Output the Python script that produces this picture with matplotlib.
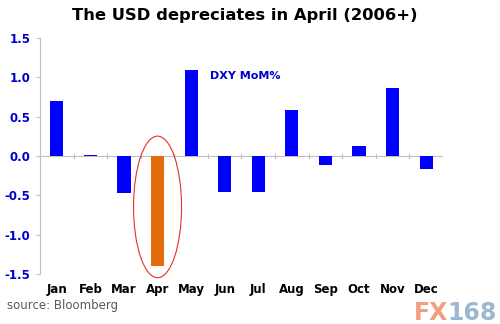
import matplotlib
matplotlib.use("Agg")
import matplotlib.pyplot as plt
from matplotlib.patches import Ellipse
import numpy as np

months = ["Jan", "Feb", "Mar", "Apr", "May", "Jun", "Jul", "Aug", "Sep", "Oct", "Nov", "Dec"]
dxy_mom = [0.70, 0.02, -0.47, -1.40, 1.10, -0.45, -0.46, 0.58, -0.11, 0.13, 0.87, -0.17]
highlight = "Apr"
yticks = [-1.5, -1.0, -0.5, 0.0, 0.5, 1.0, 1.5]

blue = "#0000FF"
orange = "#E46C0A"
grey = "#BFBFBF"

fig = plt.figure(figsize=(5.0, 3.24), dpi=100)
ax = fig.add_axes([0.08, 0.154, 0.806, 0.7284])

x = np.arange(len(months))
colors = [orange if m == highlight else blue for m in months]
ax.bar(x, dxy_mom, width=0.39, color=colors, zorder=3)

ax.set_xlim(-0.5, len(months) - 0.5)
ax.set_ylim(-1.5, 1.5)
ax.set_yticks(yticks)
ax.set_yticklabels([f"{v:.1f}" for v in yticks], color="#0000CC",
                   fontweight="bold", fontsize=8.5, family="DejaVu Sans")
ax.tick_params(axis="y", colors=grey, labelcolor="#0000CC", length=3, width=0.8, pad=4)

for s in ["top", "right", "bottom"]:
    ax.spines[s].set_visible(False)
ax.spines["left"].set_color(grey)
ax.spines["left"].set_linewidth(0.8)

# x axis line at zero with boundary ticks
ax.axhline(0, color=grey, lw=0.8, zorder=2)
for b in np.arange(0.5, len(months) - 0.5, 1.0):
    ax.plot([b, b], [-0.03, 0.03], color=grey, lw=0.8, zorder=2)
ax.plot([len(months) - 0.5] * 2, [-0.03, 0.03], color=grey, lw=0.8, zorder=2)

ax.set_xticks([])
for i, m in enumerate(months):
    ax.text(i, -1.69, m, ha="center", va="center", fontsize=8.5,
            fontweight="bold", color="black", family="DejaVu Sans")

ax.text(4.56, 1.02, "DXY MoM%", color="#0000CC", fontsize=8, fontweight="bold",
        ha="left", va="center", family="DejaVu Sans")

ell = Ellipse((months.index(highlight), -0.646), 1.43, 1.8, fill=False,
              edgecolor="#E03030", lw=0.8, zorder=4, clip_on=False)
ax.add_patch(ell)

fig.text(0.49, 0.953, "The USD depreciates in April (2006+)", ha="center", va="center",
         fontsize=11.8, fontweight="bold", color="black", family="DejaVu Sans")
fig.text(0.014, 0.056, "source: Bloomberg", ha="left", va="center",
         fontsize=8.5, color="#595959", family="DejaVu Sans")

fig.text(0.897, 0.035, "FX", ha="right", va="center", fontsize=17, fontweight="bold",
         color="#F0A080", family="DejaVu Sans")
fig.text(0.994, 0.035, "168", ha="right", va="center", fontsize=17, fontweight="bold",
         color="#9DB7CF", family="DejaVu Sans")

fig.savefig("out.png", dpi=100)
